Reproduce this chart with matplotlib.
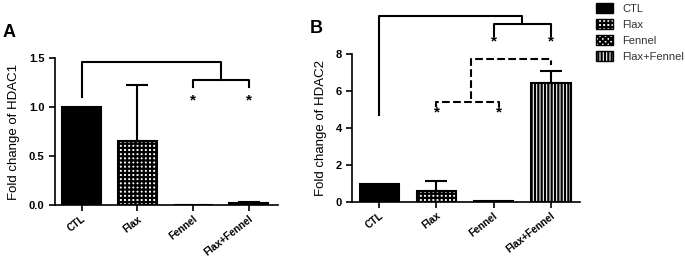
import numpy as np
import matplotlib
matplotlib.use("Agg")
import matplotlib.pyplot as plt
from matplotlib.patches import Patch

plt.rcParams['font.family'] = ['Liberation Sans', 'DejaVu Sans']
plt.rcParams['hatch.linewidth'] = 1.6

groups = ["CTL", "Flax", "Fennel", "Flax+Fennel"]
hatches = ["", "++++", "xxxxxx", "|||||"]
faces = ["black", "white", "white", "white"]

hdac1 = [1.0, 0.66, 0.005, 0.02]
hdac1_err = [0.0, 0.56, 0.0, 0.01]
hdac2 = [1.0, 0.6, 0.08, 6.45]
hdac2_err = [0.0, 0.55, 0.0, 0.65]


def bars(ax, vals, errs):
    x = np.arange(len(groups))
    for i in range(len(groups)):
        ax.bar(x[i], vals[i], width=0.7, color=faces[i], edgecolor="black",
               hatch=hatches[i], linewidth=1.5, zorder=2)
        if errs[i] > 0:
            ax.errorbar(x[i], vals[i], yerr=[[0], [errs[i]]], color="black",
                        capsize=8, elinewidth=1.5, capthick=1.5, zorder=3)
    ax.set_xticks(x)
    ax.set_xticklabels(groups, rotation=38, ha="right", rotation_mode="anchor",
                       fontsize=7.3, fontweight="bold")
    ax.spines["top"].set_visible(False)
    ax.spines["right"].set_visible(False)
    ax.spines["left"].set_linewidth(1.2)
    ax.spines["bottom"].set_linewidth(1.2)
    ax.tick_params(width=1.2, length=4)
    ax.tick_params(axis="x", pad=2)
    ax.set_xlim(-0.48, 3.52)


def bracket(ax, x1, x2, y, h1, h2, ls="-"):
    ax.plot([x1, x1, x2, x2], [h1, y, y, h2], color="black", lw=1.5,
            ls=ls, clip_on=False, zorder=4)


def star(ax, x, y):
    ax.text(x, y, "*", ha="center", va="bottom", fontsize=11,
            fontweight="bold", clip_on=False)


fig = plt.figure(figsize=(6.85, 2.6), dpi=100)
axA = fig.add_axes([0.080, 0.210, 0.3255, 0.567])
axB = fig.add_axes([0.514, 0.222, 0.333, 0.570])

# panel A
bars(axA, hdac1, hdac1_err)
axA.set_ylim(0, 1.5)
axA.set_yticks([0, 0.5, 1.0, 1.5])
axA.set_yticklabels(["0.0", "0.5", "1.0", "1.5"], fontweight="bold", fontsize=8)
axA.set_ylabel("Fold change of HDAC1", fontsize=9.5, labelpad=6)
bracket(axA, 0, 2.5, 1.46, 1.10, 1.28)
bracket(axA, 2, 3, 1.28, 1.20, 1.20)
for xs in [2, 3]:
    star(axA, xs, 1.0)
axA.text(-0.206, 1.17, "A", transform=axA.transAxes, fontsize=13,
         fontweight="bold", ha="center", va="center")

# panel B
bars(axB, hdac2, hdac2_err)
axB.set_ylim(0, 8)
axB.set_yticks([0, 2, 4, 6, 8])
axB.set_yticklabels(["0", "2", "4", "6", "8"], fontweight="bold", fontsize=8)
axB.set_ylabel("Fold change of HDAC2", fontsize=9.5, labelpad=6)
bracket(axB, 0, 2.5, 10.06, 4.73, 9.65)
bracket(axB, 2, 3, 9.65, 9.0, 9.0)
for xs in [2, 3]:
    star(axB, xs, 8.3)
bracket(axB, 1.6, 3, 7.71, 5.57, 7.41, ls="--")
bracket(axB, 1, 2.1, 5.44, 5.17, 5.17, ls="--")
for xs in [1, 2.1]:
    star(axB, xs, 4.45)
axB.text(-0.158, 1.17, "B", transform=axB.transAxes, fontsize=13,
         fontweight="bold", ha="center", va="center")

handles = [Patch(facecolor=faces[i], edgecolor="black", hatch=hatches[i], label=groups[i])
           for i in range(len(groups))]
fig.legend(handles=handles, loc="upper left", bbox_to_anchor=(0.855, 1.025),
           frameon=False, fontsize=8, handlelength=1.6, handleheight=0.9,
           labelspacing=0.5, handletextpad=0.8, labelcolor="#333333")

fig.savefig("out.png", dpi=100)
